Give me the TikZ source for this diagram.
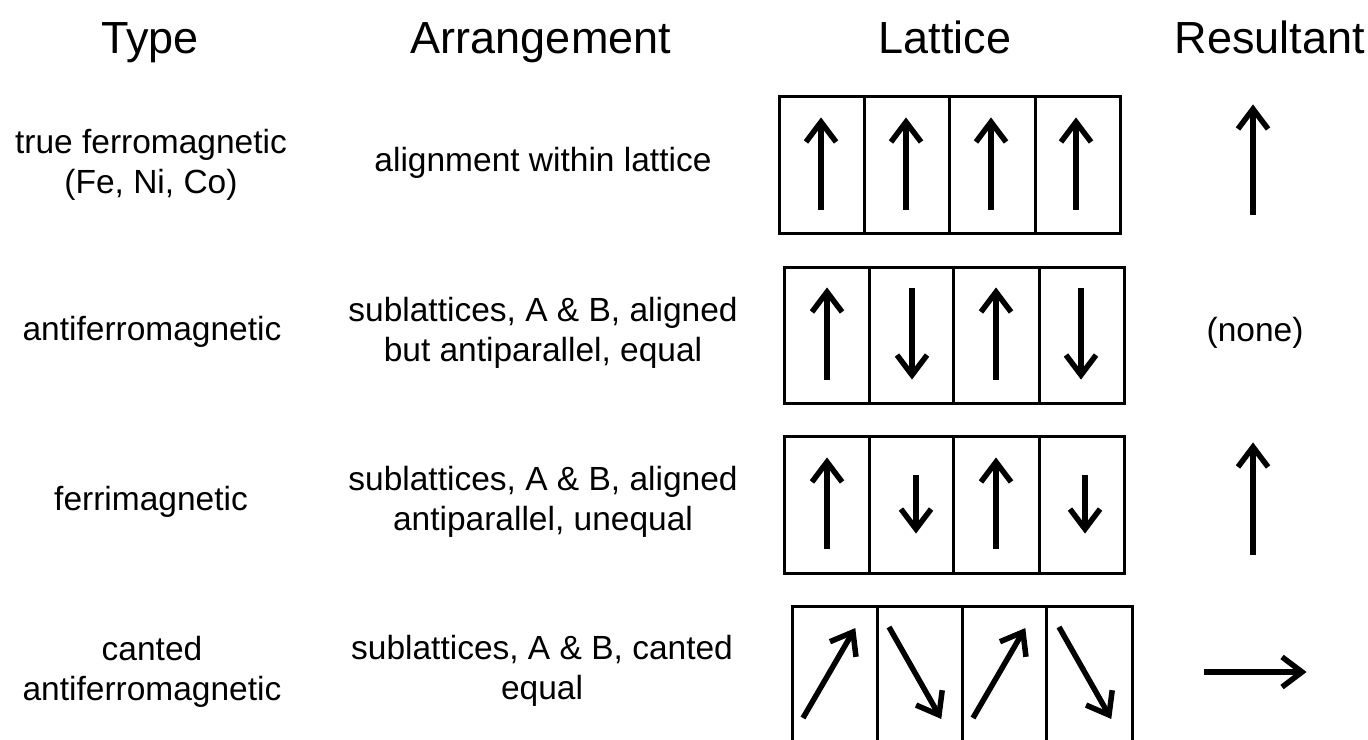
\documentclass[tikz,border=0pt]{standalone}
\usepackage{fontspec}
\setmainfont{Liberation Sans}
\usetikzlibrary{calc}
\newcommand\spinarrow[2]{%
  \draw[spinline] #1 -- #2;
  \draw[spinline, line join=miter] ($#2!25pt!37:#1$) -- #2 -- ($#2!25pt!-37:#1$);
}
\begin{document}
\begin{tikzpicture}[x=1pt,y=-1pt,
  hdr/.style={font=\fontsize{45}{54}\selectfont, anchor=base},
  txt/.style={font=\fontsize{33.5}{40}\selectfont, align=center, anchor=center},
  cellbox/.style={line width=3pt, draw=black},
  spinline/.style={line width=5.5pt, draw=black}
]
\useasboundingbox (0,0) rectangle (1368,739);
\fill[white] (0,0) rectangle (1368,739);

% headers
\node[hdr] (hType) at (150,53) {Type};
\node[hdr] (hArr) at (541,53) {Arrangement};
\node[hdr] (hLat) at (945,53) {Lattice};
\node[hdr] (hRes) at (1270,53) {Resultant};

% type column
\node[txt] (t1) at (151,165) {true ferromagnetic\\(Fe, Ni, Co)};
\node[txt] (t2) at (152,332) {antiferromagnetic};
\node[txt] (t3) at (151,502) {ferrimagnetic};
\node[txt] (t4) at (152,672) {canted\\antiferromagnetic};

% arrangement column
\node[txt] (a1) at (543,163) {alignment within lattice};
\node[txt] (a2) at (543,333) {sublattices, A \& B, aligned\\but antiparallel, equal};
\node[txt] (a3) at (543,502) {sublattices, A \& B, aligned\\antiparallel, unequal};
\node[txt] (a4) at (542,671) {sublattices, A \& B, canted\\equal};

% lattice row 1
\draw[cellbox] (779,96) rectangle (1120,233);
\foreach \x in {864,949,1035} \draw[cellbox] (\x,96) -- (\x,233);
\foreach \x in {821,906,991,1076} {\spinarrow{(\x,210)}{(\x,122)}}

% lattice row 2
\draw[cellbox] (784,267) rectangle (1124,403);
\foreach \x in {869,953,1039} \draw[cellbox] (\x,267) -- (\x,403);
\foreach \x in {827,996} {\spinarrow{(\x,380)}{(\x,292)}}
\foreach \x in {912,1081} {\spinarrow{(\x,288)}{(\x,375)}}

% lattice row 3
\draw[cellbox] (784,436) rectangle (1124,573);
\foreach \x in {869,953,1039} \draw[cellbox] (\x,436) -- (\x,573);
\foreach \x in {827,996} {\spinarrow{(\x,549)}{(\x,462)}}
\foreach \x in {916,1085} {\spinarrow{(\x,475)}{(\x,529)}}

% lattice row 4
\draw[cellbox] (792,760) -- (792,606) -- (1132,606) -- (1132,760);
\foreach \x in {877,962,1046} \draw[cellbox] (\x,606) -- (\x,760);
\spinarrow{(803,718)}{(853,632)}
\spinarrow{(889,627)}{(939,715)}
\spinarrow{(973,718)}{(1023,632)}
\spinarrow{(1059,627)}{(1109,715)}

% resultant column
\coordinate (r1a) at (1253,215); \coordinate (r1b) at (1253,109);
\spinarrow{(r1a)}{(r1b)}
\node[txt] (r2) at (1255,333) {(none)};
\coordinate (r3a) at (1253,555); \coordinate (r3b) at (1253,447);
\spinarrow{(r3a)}{(r3b)}
\coordinate (r4a) at (1204,672); \coordinate (r4b) at (1302,672);
\spinarrow{(r4a)}{(r4b)}
\end{tikzpicture}
\end{document}
